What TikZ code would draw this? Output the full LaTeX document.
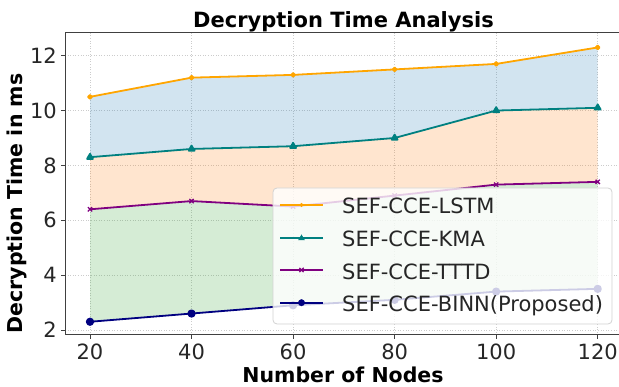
\documentclass[tikz,border=0pt]{standalone}
\usepackage{fontspec}
\setmainfont{DejaVu Sans}
\usetikzlibrary{plotmarks,calc}
\definecolor{tabblue}{RGB}{31,119,180}
\definecolor{taborange}{RGB}{255,127,14}
\definecolor{tabgreen}{RGB}{44,160,44}
\definecolor{clstm}{RGB}{255,165,0}
\definecolor{ckma}{RGB}{0,128,128}
\definecolor{ctttd}{RGB}{128,0,128}
\definecolor{cbinn}{RGB}{0,0,128}
\tikzset{
  gridline/.style={gray!40, line width=0.6pt, dotted},
  spine/.style={black!75, line width=0.9pt},
  serie/.style={line width=1.8pt, line join=round},
  ticklab/.style={inner sep=0pt, font=\fontsize{21}{21}\selectfont, text=black!85},
  axlab/.style={inner sep=0pt, font=\fontsize{20.5}{20.5}\selectfont\bfseries},
  legtext/.style={inner sep=0pt, anchor=base west, font=\fontsize{21}{21}\selectfont, text=black!85},
  mlstm/.style={mark=*, mark size=1.9pt, mark options={clstm}},
  mkma/.style={mark=triangle*, mark size=3.4pt, mark options={ckma}},
  mtttd/.style={mark=x, mark size=3.0pt, mark options={ctttd, line width=1.3pt}},
  mbinn/.style={mark=*, mark size=3.2pt, mark options={cbinn}},
}
\begin{document}
\begin{tikzpicture}[x=1pt,y=1pt]
\useasboundingbox (0,0) rectangle (619,387);
\begin{scope}
\clip (0,0) rectangle (619,387);
\begin{scope}[shift={(-11.54pt,2.14pt)}, x=5.077pt, y=27.43pt]
  % grid
  \foreach \gx in {20,40,...,120} \draw[gridline] (\gx,1.82) -- (\gx,12.83);
  \foreach \gy in {2,4,...,12} \draw[gridline] (15.07,\gy) -- (125,\gy);
  % fills
  \fill[tabblue, fill opacity=0.2] (20,10.5) -- (40,11.2) -- (60,11.3) -- (80,11.5) -- (100,11.7) -- (120,12.3)
     -- (120,10.1) -- (100,10.0) -- (80,9.0) -- (60,8.7) -- (40,8.6) -- (20,8.3) -- cycle;
  \fill[taborange, fill opacity=0.2] (20,8.3) -- (40,8.6) -- (60,8.7) -- (80,9.0) -- (100,10.0) -- (120,10.1)
     -- (120,7.4) -- (100,7.3) -- (80,6.9) -- (60,6.5) -- (40,6.7) -- (20,6.4) -- cycle;
  \fill[tabgreen, fill opacity=0.2] (20,6.4) -- (40,6.7) -- (60,6.5) -- (80,6.9) -- (100,7.3) -- (120,7.4)
     -- (120,3.5) -- (100,3.4) -- (80,3.1) -- (60,2.9) -- (40,2.6) -- (20,2.3) -- cycle;
  % series
  \draw[serie, clstm] plot[mlstm] coordinates {(20,10.5) (40,11.2) (60,11.3) (80,11.5) (100,11.7) (120,12.3)};
  \draw[serie, ckma] plot[mkma] coordinates {(20,8.3) (40,8.6) (60,8.7) (80,9.0) (100,10.0) (120,10.1)};
  \draw[serie, ctttd] plot[mtttd] coordinates {(20,6.4) (40,6.7) (60,6.5) (80,6.9) (100,7.3) (120,7.4)};
  \draw[serie, cbinn] plot[mbinn] coordinates {(20,2.3) (40,2.6) (60,2.9) (80,3.1) (100,3.4) (120,3.5)};
  % spines
  \draw[spine] (15.07,1.82) rectangle (125,12.83);
  % ticks
  \foreach \gx in {20,40,...,120} \draw[spine] (\gx,1.82) -- ++(0,-4pt);
  \foreach \gy in {2,4,...,12} \draw[spine] (15.07,\gy) -- ++(-4pt,0);
  \foreach \gx [count=\i] in {20,40,...,120} \node[ticklab, anchor=north] (xt\i) at ([yshift=-9pt]\gx,1.82) {\gx};
  \foreach \gy [count=\i] in {2,4,...,12} \node[ticklab, anchor=east] (yt\i) at ([xshift=-8pt]15.07,\gy) {\gy};
\end{scope}
\end{scope}
% labels
\node[axlab, font=\fontsize{21}{21}\selectfont\bfseries, anchor=base] (title) at (343.5,359) {Decryption Time Analysis};
\node[axlab, anchor=base] (xlab) at (343,4) {Number of Nodes};
\node[axlab, rotate=90] (ylab) at (16.5,183.5) {Decryption Time in ms};
% legend
\draw[gray!35, fill=white, fill opacity=0.8, rounded corners=4pt, line width=0.8pt] (273,199) rectangle (612,63);
\coordinate (h1a) at (280,182);  \coordinate (h1b) at (323,182);
\coordinate (h2a) at (280,148.7); \coordinate (h2b) at (323,148.7);
\coordinate (h3a) at (280,117);  \coordinate (h3b) at (323,117);
\coordinate (h4a) at (280,84.3); \coordinate (h4b) at (323,84.3);
\draw[serie, clstm] (h1a) -- (h1b);
\draw[serie, ckma] (h2a) -- (h2b);
\draw[serie, ctttd] (h3a) -- (h3b);
\draw[serie, cbinn] (h4a) -- (h4b);
\draw plot[mlstm] coordinates {($(h1a)!0.5!(h1b)$)};
\draw plot[mkma] coordinates {($(h2a)!0.5!(h2b)$)};
\draw plot[mtttd] coordinates {($(h3a)!0.5!(h3b)$)};
\draw plot[mbinn] coordinates {($(h4a)!0.5!(h4b)$)};
\node[legtext] (l1) at (342,173.7) {SEF-CCE-LSTM};
\node[legtext] (l2) at (342,140.3) {SEF-CCE-KMA};
\node[legtext] (l3) at (342,107.7) {SEF-CCE-TTTD};
\node[legtext] (l4) at (342,75.3) {SEF-CCE-BINN(Proposed)};
\end{tikzpicture}
\end{document}
